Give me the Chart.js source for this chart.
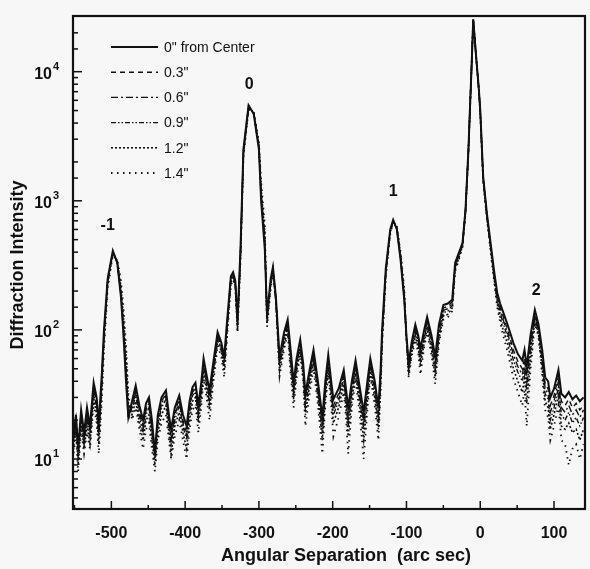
<!DOCTYPE html>
<html>
<head>
<meta charset="utf-8">
<script src="https://cdn.jsdelivr.net/npm/chart.js@4"></script>
<style>
  html, body { margin: 0; padding: 0; background: #f7f7f7; }
  canvas { display: block; }
</style>
</head>
<body>
<canvas id="chart" width="590" height="569"></canvas>
<script>
// angular separation (arc sec), shared by all scans
const angle = [-552,-548,-545,-541,-537,-533,-529,-524,-520,-517,-513,-510,-505,-498,-492,-487,-484,-480,-477,-472,
  -467,-462,-457,-453,-449,-445,-441,-437,-432,-426,-422,-419,-414,-408,-403,-398,-394,-390,-386,-382,
  -378,-375,-371,-367,-362,-356,-351,-347,-343,-338,-335,-332,-329,-325,-321,-314,-307,-300,-297,-292,
  -289,-284,-281,-277,-272,-266,-261,-257,-253,-249,-244,-240,-237,-231,-226,-220,-214,-210,-206,-202,
  -199,-192,-185,-182,-179,-174,-169,-163,-158,-153,-149,-143,-138,-135,-133,-128,-122,-118,-113,-108,
  -103,-100,-97,-93,-88,-84,-81,-76,-72,-66,-61,-56,-50,-44,-38,-34,-28,-24,-20,-16,
  -14,-12,-9.5,-6,-2,0,4,9,14,19,23,27,30,37,45,51,57,60,63,68,
  74,79,84,88,92,95,100,106,110,115,120,125,130,135,140];

// diffraction intensity for each offset from center
const s00 = [14,22,12,24,16,25,18,39,30,19,45,100,250,410,330,180,100,39,21,28,
  37,26,20,27,30,20,11,22,30,34,22,17,25,31,22,18,28,36,39,26,
  40,60,45,34,55,96,80,62,120,260,280,240,120,420,2500,5500,4700,2500,1000,420,
  131,250,307,180,62,95,120,70,39,60,84,55,32,50,70,40,21,40,64,40,
  29,35,49,35,25,40,58,35,23,40,60,40,25,50,100,300,600,713,600,350,
  171,90,55,80,110,90,72,100,126,90,62,110,156,160,171,331,410,472,851,2500,
  5070,10000,25500,14000,7500,5070,1535,800,472,280,194,160,143,110,79,65,58,70,52,90,
  143,110,70,43,40,30,35,49,32,30,33,29,31,28,30];
const s03 = [13,20,11,22,15,23,17,36,28,17,42,95,245,405,330,185,105,42,20,26,
  34,24,18,25,28,18,12,20,28,32,20,15,23,29,20,16,26,34,37,24,
  37,57,42,31,52,92,76,58,115,255,275,235,115,400,2450,5450,4700,2550,1050,450,
  125,240,300,175,58,90,115,65,36,56,80,52,29,47,66,37,19,37,60,37,
  26,32,46,32,22,37,55,32,21,37,57,37,23,47,95,290,590,705,600,355,
  175,88,52,76,105,86,66,95,120,84,56,102,148,152,165,320,400,465,840,2480,
  5050,10000,25400,14000,7450,5000,1500,780,455,268,184,150,132,100,70,57,50,60,44,80,
  135,104,64,38,35,26,31,44,28,26,29,25,27,24,26];
const s06 = [15,21,13,23,14,22,16,35,27,16,40,92,240,400,335,190,110,45,22,25,
  33,23,17,24,27,17,11,19,27,31,19,14,22,28,19,15,25,33,35,23,
  35,55,40,29,50,90,74,55,112,250,270,230,110,390,2400,5400,4750,2600,1100,480,
  122,235,295,172,55,86,112,62,34,54,78,50,27,45,64,35,18,35,58,35,
  24,30,44,30,20,35,53,30,19,35,55,35,21,45,92,285,585,700,605,360,
  180,86,50,73,100,82,62,90,115,80,52,96,142,146,160,312,392,460,830,2460,
  5030,10000,25300,14000,7400,4950,1480,770,445,260,178,142,125,95,64,52,45,55,39,74,
  130,100,60,35,32,23,28,40,25,23,26,22,24,21,24];
const s09 = [12,19,10,21,13,20,15,33,25,15,38,88,235,398,338,195,118,50,23,24,
  31,21,16,22,25,16,10,18,25,29,18,13,20,26,18,14,23,31,33,21,
  33,52,38,27,47,87,72,52,108,245,265,225,105,380,2350,5350,4800,2650,1150,510,
  118,230,290,170,52,82,108,58,32,51,75,48,25,42,61,33,16,33,55,33,
  22,28,42,28,18,33,50,28,17,32,52,33,19,42,88,280,580,695,610,370,
  185,85,48,70,96,78,58,86,110,76,48,90,136,140,155,305,385,455,820,2440,
  5010,10000,25200,14000,7350,4900,1460,760,438,252,170,135,118,88,58,47,40,50,34,68,
  125,96,56,32,29,20,25,36,22,20,23,19,21,18,21];
const s12 = [11,18,9,19,12,18,13,30,22,13,34,80,225,390,345,215,135,62,27,22,
  28,19,14,20,22,14,9,16,22,26,16,11,18,23,16,12,20,28,30,19,
  30,48,34,24,43,82,68,48,100,235,255,220,100,360,2250,5250,4850,2750,1250,560,
  112,222,285,168,48,76,102,52,29,47,70,44,22,38,56,30,14,30,50,30,
  19,25,38,25,15,29,46,25,14,28,48,30,17,38,82,270,570,690,620,385,
  195,84,45,66,90,72,52,80,102,70,43,84,128,132,148,296,375,448,810,2420,
  4990,10000,25100,14000,7300,4850,1440,745,425,242,160,125,105,78,50,40,33,42,27,58,
  118,92,50,28,25,17,22,31,18,17,19,16,17,14,17];
const s14 = [10,16,8,17,11,16,12,27,19,11,28,70,210,380,350,240,160,75,32,20,
  25,17,12,17,19,12,8,14,19,22,14,10,15,20,14,10,17,24,26,16,
  26,42,30,20,38,76,62,43,90,222,245,215,95,340,2150,5100,4900,2850,1400,650,
  105,210,275,165,44,70,95,46,25,42,64,40,18,33,50,26,11,26,45,26,
  15,21,33,21,11,25,42,21,10,24,44,26,14,34,75,255,555,680,630,400,
  210,85,43,62,84,66,45,74,95,64,38,78,120,125,140,285,365,440,800,2400,
  4970,10000,25000,14000,7250,4800,1420,730,410,232,150,115,95,68,42,33,26,34,18,48,
  112,88,44,24,21,14,18,26,14,13,9,12,13,10,13];

const seriesLabels = ['0" from Center', '0.3"', '0.6"', '0.9"', '1.2"', '1.4"'];
const seriesValues = [s00, s03, s06, s09, s12, s14];

// diffraction order labels and where they sit (data units)
const orderNames = ['-1', '0', '1', '2'];
const orderX = [-505, -313, -118, 76];
const orderY = [640, 8000, 1180, 200];

const xTitle = 'Angular Separation  (arc sec)';
const yTitle = 'Diffraction Intensity';

const FONT = "'Liberation Sans', Arial, sans-serif";
const INK = '#111';

const dashes = [[], [5, 4], [7, 3, 2, 3], [5, 2, 1.5, 2, 1.5, 2], [2, 2], [1.5, 4.5]];
const widths = [2, 1.4, 1.4, 1.4, 1.6, 1.8];

const datasets = seriesValues.map((vals, i) => ({
  label: seriesLabels[i],
  data: angle.map((a, j) => ({ x: a, y: vals[j] })),
  borderColor: INK,
  borderWidth: widths[i],
  borderDash: dashes[i],
  pointRadius: 0,
  tension: 0,
  fill: false,
  order: i
}));

const isDecade = v => {
  const lg = Math.log10(v);
  return Math.abs(lg - Math.round(lg)) < 1e-6;
};

// frame, inward ticks, decade labels, legend, titles and order labels
const decor = {
  id: 'decor',
  afterDatasetsDraw(chart) {
    const ctx = chart.ctx;
    const a = chart.chartArea;
    const xs = chart.scales.x, ys = chart.scales.y;
    ctx.save();
    ctx.strokeStyle = INK;
    ctx.fillStyle = INK;
    ctx.lineWidth = 1.5;
    ys.ticks.forEach(t => {
      const major = isDecade(t.value);
      const py = ys.getPixelForValue(t.value);
      if (py < a.top || py > a.bottom) return;
      ctx.beginPath();
      ctx.moveTo(a.left, py);
      ctx.lineTo(a.left + (major ? 9 : 5), py);
      ctx.stroke();
      if (major) {
        const e = String(Math.round(Math.log10(t.value)));
        ctx.font = 'bold 16px ' + FONT;
        ctx.textAlign = 'right';
        ctx.textBaseline = 'middle';
        ctx.fillText('10', 52, py + 3);
        ctx.font = 'bold 11px ' + FONT;
        ctx.textAlign = 'left';
        ctx.fillText(e, 53, py - 5);
      }
    });
    xs.ticks.forEach(t => {
      const major = t.value % 100 === 0;
      const px = xs.getPixelForValue(t.value);
      ctx.beginPath();
      ctx.moveTo(px, a.bottom);
      ctx.lineTo(px, a.bottom - (major ? 8 : 4));
      ctx.stroke();
    });
    ctx.lineWidth = 2.2;
    ctx.strokeRect(a.left, a.top, a.right - a.left, a.bottom - a.top);

    // axis titles
    ctx.font = 'bold 18px ' + FONT;
    ctx.textAlign = 'center';
    ctx.textBaseline = 'middle';
    ctx.fillText(xTitle, 346, 556);
    ctx.save();
    ctx.translate(18, 265);
    ctx.rotate(-Math.PI / 2);
    ctx.fillText(yTitle, 0, 0);
    ctx.restore();

    // legend
    ctx.font = '14px ' + FONT;
    ctx.textAlign = 'left';
    chart.data.datasets.forEach((ds, i) => {
      const y = 47 + i * 25.2;
      ctx.beginPath();
      ctx.setLineDash(ds.borderDash);
      ctx.lineWidth = ds.borderWidth;
      ctx.moveTo(111, y);
      ctx.lineTo(158, y);
      ctx.stroke();
      ctx.setLineDash([]);
      ctx.fillText(ds.label, 164, y + 1);
    });

    // order labels
    ctx.font = 'bold 16px ' + FONT;
    ctx.textAlign = 'center';
    orderNames.forEach((n, i) => {
      ctx.fillText(n, xs.getPixelForValue(orderX[i]), ys.getPixelForValue(orderY[i]));
    });
    ctx.restore();
  }
};

new Chart(document.getElementById('chart'), {
  type: 'line',
  data: { datasets },
  options: {
    responsive: false,
    animation: false,
    layout: { padding: { top: 16, right: 5, left: 0, bottom: 0 } },
    plugins: { legend: { display: false }, tooltip: { enabled: false } },
    scales: {
      x: {
        type: 'linear',
        min: -552,
        max: 142,
        grid: { display: false },
        border: { display: false },
        ticks: {
          stepSize: 50,
          includeBounds: false,
          autoSkip: false,
          maxRotation: 0,
          padding: 7,
          color: INK,
          font: { family: FONT, size: 16, weight: 'bold' },
          callback: v => (v % 100 === 0 ? String(v) : '')
        },
        afterFit: s => { s.height = 60; }
      },
      y: {
        type: 'logarithmic',
        min: 4.1,
        max: 27000,
        grid: { display: false },
        border: { display: false },
        ticks: {
          autoSkip: false,
          callback: () => ''
        },
        afterFit: s => { s.width = 73; }
      }
    }
  },
  plugins: [decor]
});
</script>
</body>
</html>
